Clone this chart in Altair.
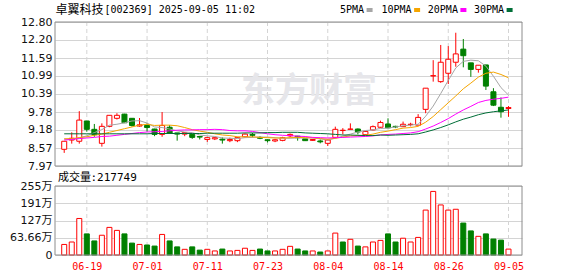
import altair as alt
import pandas as pd

# ---------------- data ----------------
dates = ["06-16", "06-17", "06-18", "06-19", "06-20", "06-23", "06-24", "06-25", "06-26", "06-27",
         "06-30", "07-01", "07-02", "07-03", "07-04", "07-07", "07-08", "07-09", "07-10", "07-11",
         "07-14", "07-15", "07-16", "07-17", "07-18", "07-21", "07-22", "07-23", "07-24", "07-25",
         "07-28", "07-29", "07-30", "07-31", "08-01", "08-04", "08-05", "08-06", "08-07", "08-08",
         "08-11", "08-12", "08-13", "08-14", "08-15", "08-18", "08-19", "08-20", "08-21", "08-22",
         "08-25", "08-26", "08-27", "08-28", "08-29", "09-01", "09-02", "09-03", "09-04", "09-05"]

opens = [8.53, 8.84, 8.80, 9.48, 9.20, 8.73, 9.30, 9.57, 9.71, 9.57,
         9.31, 9.33, 9.21, 9.03, 9.27, 9.08, 9.04, 9.03, 8.96, 8.86,
         8.88, 8.87, 8.82, 8.82, 8.95, 9.03, 8.93, 8.85, 8.81, 8.83,
         8.98, 8.97, 8.88, 8.83, 8.81, 8.73, 8.93, 9.16, 9.20, 9.21,
         9.02, 9.18, 9.27, 9.38, 9.30, 9.29, 9.36, 9.34, 9.87, 10.99,
         10.80, 11.08, 11.45, 11.89, 11.43, 11.21, 11.36, 10.46, 9.94, 9.90]
highs = [8.80, 9.10, 9.81, 9.48, 9.38, 9.40, 9.67, 9.74, 9.72, 9.57,
         9.58, 9.40, 9.22, 9.78, 9.34, 9.08, 9.11, 9.03, 8.97, 8.95,
         8.93, 8.93, 8.92, 8.95, 9.06, 9.08, 8.97, 8.86, 8.88, 8.95,
         9.06, 8.98, 8.88, 8.88, 8.86, 8.86, 9.29, 9.24, 9.40, 9.23,
         9.14, 9.33, 9.49, 9.57, 9.32, 9.46, 9.42, 9.71, 10.58, 11.52,
         12.03, 11.99, 12.44, 12.23, 11.43, 11.35, 11.36, 10.58, 10.27, 9.98]
lows = [8.41, 8.72, 8.72, 9.12, 8.95, 8.62, 9.27, 9.53, 9.42, 9.29,
        9.29, 9.12, 8.97, 8.95, 9.05, 8.82, 8.97, 8.88, 8.86, 8.78,
        8.84, 8.72, 8.77, 8.77, 8.93, 8.93, 8.87, 8.76, 8.77, 8.80,
        8.93, 8.82, 8.81, 8.81, 8.73, 8.64, 8.90, 9.03, 9.20, 9.03,
        9.01, 9.16, 9.25, 9.24, 9.24, 9.28, 9.30, 9.34, 9.74, 10.80,
        10.76, 10.72, 11.30, 11.28, 10.96, 11.10, 10.52, 9.98, 9.59, 9.62]
closes = [8.80, 8.90, 9.51, 9.20, 9.02, 9.30, 9.67, 9.67, 9.42, 9.33,
          9.35, 9.26, 9.03, 9.33, 9.07, 9.04, 9.09, 8.93, 8.94, 8.92,
          8.92, 8.84, 8.86, 8.92, 9.04, 9.00, 8.90, 8.82, 8.85, 8.92,
          9.03, 8.92, 8.82, 8.86, 8.78, 8.84, 9.20, 9.17, 9.21, 9.11,
          9.13, 9.29, 9.43, 9.25, 9.28, 9.37, 9.37, 9.60, 10.58, 11.00,
          11.45, 11.55, 11.73, 11.67, 11.21, 11.35, 10.65, 10.01, 9.79, 9.93]

ma5 = [8.88, 8.86, 8.92, 8.98, 9.09, 9.19, 9.34, 9.37, 9.42, 9.48,
       9.49, 9.41, 9.28, 9.26, 9.21, 9.15, 9.11, 9.09, 9.01, 8.98,
       8.96, 8.91, 8.90, 8.89, 8.92, 8.93, 8.94, 8.94, 8.92, 8.90,
       8.90, 8.91, 8.91, 8.91, 8.88, 8.84, 8.90, 8.97, 9.04, 9.11,
       9.16, 9.18, 9.23, 9.24, 9.28, 9.32, 9.34, 9.37, 9.64, 9.98,
       10.40, 10.84, 11.26, 11.48, 11.52, 11.50, 11.32, 10.98, 10.60, 10.35]
ma10 = [8.88, 8.89, 8.92, 8.95, 9.00, 9.04, 9.10, 9.16, 9.22, 9.28,
        9.34, 9.37, 9.33, 9.34, 9.34, 9.32, 9.26, 9.19, 9.14, 9.10,
        9.05, 9.01, 8.99, 8.95, 8.95, 8.95, 8.93, 8.92, 8.91, 8.91,
        8.92, 8.93, 8.92, 8.92, 8.89, 8.87, 8.90, 8.94, 8.98, 8.99,
        9.00, 9.04, 9.10, 9.14, 9.19, 9.24, 9.26, 9.30, 9.44, 9.63,
        9.86, 10.09, 10.32, 10.56, 10.75, 10.95, 11.08, 11.12, 11.04, 10.93]
ma20 = [8.84, 8.86, 8.89, 8.91, 8.93, 8.96, 8.97, 9.00, 9.03, 9.06,
        9.09, 9.11, 9.12, 9.13, 9.15, 9.17, 9.18, 9.18, 9.19, 9.19,
        9.20, 9.19, 9.16, 9.15, 9.15, 9.13, 9.09, 9.05, 9.02, 9.00,
        8.99, 8.97, 8.96, 8.93, 8.92, 8.91, 8.92, 8.93, 8.94, 8.95,
        8.96, 8.98, 9.01, 9.03, 9.04, 9.06, 9.08, 9.12, 9.21, 9.31,
        9.43, 9.56, 9.71, 9.85, 9.97, 10.10, 10.17, 10.21, 10.24, 10.28]
ma30 = [9.05, 9.05, 9.05, 9.05, 9.05, 9.05, 9.05, 9.05, 9.05, 9.05,
        9.05, 9.05, 9.06, 9.06, 9.06, 9.06, 9.06, 9.06, 9.06, 9.07,
        9.07, 9.07, 9.07, 9.07, 9.08, 9.08, 9.08, 9.09, 9.09, 9.10,
        9.10, 9.10, 9.08, 9.07, 9.06, 9.05, 9.03, 9.01, 9.01, 9.00,
        8.99, 8.99, 9.01, 9.00, 9.01, 9.02, 9.03, 9.05, 9.11, 9.18,
        9.26, 9.35, 9.45, 9.54, 9.61, 9.69, 9.75, 9.79, 9.82, 9.85]

# volume in 万 shares
volumes = [39, 48, 135, 78, 52, 73, 102, 91, 78, 44,
           39, 37, 33, 76, 52, 30, 21, 30, 18, 21,
           15, 22, 15, 17, 25, 17, 22, 15, 15, 21,
           32, 22, 15, 15, 11, 15, 81, 48, 58, 33,
           30, 48, 54, 78, 48, 62, 48, 65, 166, 235,
           185, 166, 169, 118, 89, 69, 78, 59, 55, 21.7749]
vol_dirs = ["R", "R", "R", "G", "G", "R", "R", "R", "G", "G",
            "R", "G", "G", "R", "G", "G", "R", "G", "G", "R",
            "R", "G", "R", "R", "R", "R", "G", "G", "R", "R",
            "R", "G", "G", "R", "G", "R", "R", "G", "R", "G",
            "R", "R", "R", "G", "G", "R", "R", "R", "R", "R",
            "R", "R", "R", "G", "G", "R", "G", "G", "G", "R"]

label_dates = ["06-19", "07-01", "07-11", "07-23", "08-04", "08-14", "08-26", "09-05"]
price_ticks = [7.97, 8.57, 9.18, 9.78, 10.39, 10.99, 11.59, 12.20, 12.80]
vol_ticks = [0, 63.66, 127, 191, 255]
ma_names = ["5PMA", "10PMA", "20PMA", "30PMA"]
ma_colors = ["#A6A6A6", "#F5A500", "#FF00FF", "#006E37"]

stock_name = "卓翼科技"
stock_info = "[002369] 2025-09-05 11:02"
vol_label = "成交量"
vol_value = ":217749"
watermark = "东方财富"

RED = "#FF0000"
GREEN = "#008000"
GRID = "#D4D4D4"
FRAME = "#8C8C8C"

# ---------------- tables ----------------
n = len(dates)
df = pd.DataFrame({"idx": list(range(n)), "date": dates, "open": opens, "high": highs,
                   "low": lows, "close": closes})
vdf = pd.DataFrame({"idx": list(range(n)), "vol": volumes, "vd": vol_dirs})
tick_idx = [dates.index(d) for d in label_dates]
gdf = pd.DataFrame({"idx": tick_idx})

W = 467          # plot width
H1 = 144         # price panel height
GAP = 20
H2 = 69          # volume panel height
H = H1 + GAP + H2

xscale = alt.Scale(domain=[-0.56, 60.13], nice=False, zero=False)
yscale = alt.Scale(domain=[7.97, 12.80], nice=False, zero=False, range=[H1, 0])
vscale = alt.Scale(domain=[0, 255], nice=False, zero=True, range=[H, H1 + GAP])

label_expr = "[" + ",".join("'" + d + "'" for d in dates) + "][datum.value]"
x_enc = alt.X("idx:Q", scale=xscale, title=None,
              axis=alt.Axis(values=tick_idx, labelExpr=label_expr, ticks=False, domain=False,
                            grid=False, labelColor=RED, labelFont="DejaVu Sans Mono",
                            labelFontSize=10, labelPadding=6, labelOverlap=False,
                            labelFlush=False, orient="bottom"))

y_price_axis = alt.Axis(values=price_ticks, format=".2f", ticks=False, domain=False,
                        grid=True, gridColor=GRID, labelFont="DejaVu Sans", labelFontSize=11,
                        labelColor="#111111", labelPadding=3, labelOverlap=False,
                        labelFlush=False, orient="left")
v_axis = alt.Axis(values=vol_ticks, format=".4~g",
                  labelExpr="datum.value == 0 ? '0' : datum.label + '万'",
                  ticks=False, domain=False, grid=True, gridColor=GRID,
                  labelFont="DejaVu Sans, Noto Sans CJK SC", labelFontSize=11,
                  labelColor="#111111", labelPadding=3, labelOverlap=False,
                  labelFlush=False, orient="left")

up_cond = "datum.close >= datum.open"

# watermark
wm = alt.Chart(pd.DataFrame({"t": [watermark]})).mark_text(
    font="Noto Sans CJK SC", fontSize=34, fontWeight="bold", color="#E6E6EA",
    align="center", baseline="middle").encode(
    x=alt.value(254), y=alt.value(70), text="t:N")

# dashed vertical gridlines in both panels
vgrid1 = alt.Chart(gdf).mark_rule(color=GRID, strokeDash=[4, 3], strokeWidth=1).encode(
    x=x_enc, y=alt.value(0), y2=alt.value(H1))
vgrid2 = alt.Chart(gdf).mark_rule(color=GRID, strokeDash=[4, 3], strokeWidth=1).encode(
    x=x_enc, y=alt.value(H1 + GAP), y2=alt.value(H))

base = alt.Chart(df)
wick = base.mark_rule(strokeWidth=1).encode(
    x=x_enc,
    y=alt.Y("low:Q", scale=yscale, axis=y_price_axis, title=None),
    y2="high:Q",
    color=alt.condition(up_cond, alt.value(RED), alt.value(GREEN)))

body = base.mark_bar(size=5, strokeWidth=1).encode(
    x=x_enc,
    y=alt.Y("open:Q", scale=yscale, axis=None, title=None),
    y2="close:Q",
    fill=alt.condition(up_cond, alt.value("#FFFFFF"), alt.value(GREEN)),
    stroke=alt.condition(up_cond, alt.value(RED), alt.value(GREEN)))

ma_layers = []
for name, vals, col in zip(ma_names, [ma5, ma10, ma20, ma30], ma_colors):
    mdf = pd.DataFrame({"idx": list(range(n)), "value": vals})
    ma_layers.append(alt.Chart(mdf).mark_line(strokeWidth=1, color=col).encode(
        x=x_enc, y=alt.Y("value:Q", scale=yscale, axis=None, title=None)))

vol_cond = "datum.vd == 'R'"
vbars = alt.Chart(vdf).mark_bar(size=5, strokeWidth=1).encode(
    x=x_enc,
    y=alt.Y("vol:Q", scale=vscale, axis=v_axis, title=None),
    fill=alt.condition(vol_cond, alt.value("#FFFFFF"), alt.value(GREEN)),
    stroke=alt.condition(vol_cond, alt.value(RED), alt.value(GREEN)))

# panel frames
frame1 = alt.Chart(pd.DataFrame({"p": [0]})).mark_rect(
    filled=False, stroke=FRAME, strokeWidth=1).encode(
    x=alt.value(0), x2=alt.value(W), y=alt.value(0), y2=alt.value(H1))
frame2 = alt.Chart(pd.DataFrame({"p": [0]})).mark_rect(
    filled=False, stroke=FRAME, strokeWidth=1).encode(
    x=alt.value(0), x2=alt.value(W), y=alt.value(H1 + GAP), y2=alt.value(H))

# titles
t1 = alt.Chart(pd.DataFrame({"t": [stock_name]})).mark_text(
    font="Noto Sans CJK SC", fontSize=12, color="#000000", align="left", baseline="middle").encode(
    x=alt.value(0.5), y=alt.value(-12.5), text="t:N")
t2 = alt.Chart(pd.DataFrame({"t": [stock_info]})).mark_text(
    font="DejaVu Sans Mono", fontSize=10, color="#000000", align="left", baseline="middle").encode(
    x=alt.value(49.5), y=alt.value(-12.5), text="t:N")

legend_layers = []
leg_text_x = [285, 326.5, 372.8, 419]
for name, col, lx in zip(ma_names, ma_colors, leg_text_x):
    legend_layers.append(alt.Chart(pd.DataFrame({"t": [name]})).mark_text(
        font="DejaVu Sans Mono", fontSize=10, color="#000000", align="left", baseline="middle").encode(
        x=alt.value(lx), y=alt.value(-12.5), text="t:N"))
    sq_x = lx + 6.02 * len(name) + 2.5
    legend_layers.append(alt.Chart(pd.DataFrame({"t": [name]})).mark_rect(color=col).encode(
        x=alt.value(sq_x), x2=alt.value(sq_x + 6), y=alt.value(-14), y2=alt.value(-10)))

vt1 = alt.Chart(pd.DataFrame({"t": [vol_label]})).mark_text(
    font="Noto Sans CJK SC", fontSize=11, color="#000000", align="left", baseline="middle").encode(
    x=alt.value(3), y=alt.value(H1 + GAP - 8), text="t:N")
vt2 = alt.Chart(pd.DataFrame({"t": [vol_value]})).mark_text(
    font="DejaVu Sans Mono", fontSize=11, color="#000000", align="left", baseline="middle").encode(
    x=alt.value(35.5), y=alt.value(H1 + GAP - 8), text="t:N")

chart = alt.layer(
    wm, vgrid1, vgrid2, wick, body, *ma_layers, vbars, frame1, frame2,
    t1, t2, *legend_layers, vt1, vt2
).resolve_scale(y="independent").properties(
    width=W, height=H,
    autosize=alt.AutoSizeParams(type="none"),
    padding={"left": 55, "top": 22, "right": 56, "bottom": 21},
    background="#FFFFFF",
).configure_view(stroke=None)

chart.save("out.html", embed_options={"renderer": "svg", "actions": False})
